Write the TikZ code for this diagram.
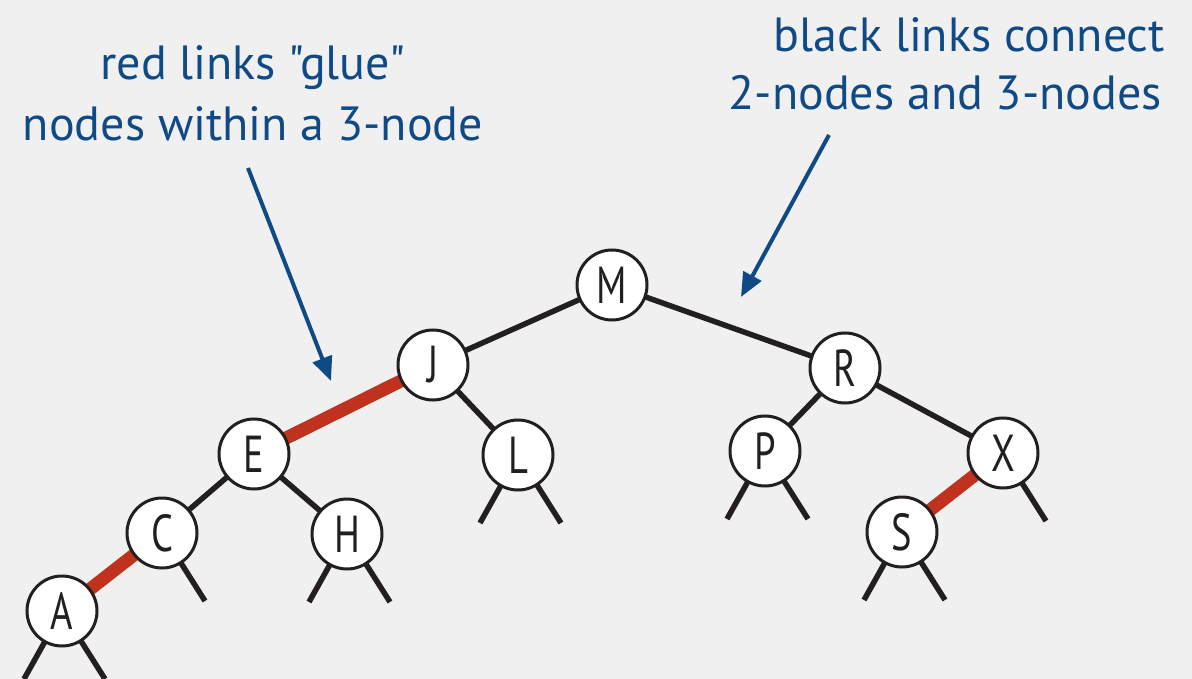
\documentclass[tikz,border=0pt]{standalone}
\usepackage{fontspec}
\setmainfont{PT Sans}
\newfontfamily\notefont{PT Sans}
\newfontfamily\keyfont{PT Sans}[FakeStretch=0.74]
\usetikzlibrary{arrows.meta}
\definecolor{bgcol}{HTML}{F0F0F0}
\definecolor{notecol}{HTML}{0F4A87}
\definecolor{redlink}{HTML}{C0311E}
\definecolor{blacklink}{HTML}{231F20}
\pgfdeclarelayer{bg}
\pgfdeclarelayer{links}
\pgfsetlayers{bg,links,main}
\tikzset{
  key/.style={circle, draw=blacklink, line width=3pt, fill=white, minimum size=70pt,
    inner sep=0pt, font=\keyfont\fontsize{52}{52}\selectfont, text=blacklink},
  blk/.style={draw=blacklink, line width=5.5pt},
  rdl/.style={draw=redlink, line width=13pt},
  nil/.style={draw=blacklink, line width=5.5pt},
  note/.style={text=notecol, font=\notefont\fontsize{48}{60}\selectfont, inner sep=0pt},
  pointer/.style={draw=notecol, line width=4pt, -{Triangle[length=24pt,width=20pt]}}
}
\begin{document}
\begin{tikzpicture}[x=1pt, y=-1pt]
\begin{pgfonlayer}{bg}
  \fill[bgcol] (0,0) rectangle (1192,679);
\end{pgfonlayer}
\useasboundingbox (0,0) rectangle (1192,679);

% tree nodes
\node[key] (M) at (612,285) {M};
\node[key] (J) at (433,365) {J};
\node[key] (R) at (845,368) {R};
\node[key] (E) at (254,454) {E};
\node[key] (L) at (518,455) {L};
\node[key] (P) at (765,451) {P};
\node[key] (X) at (1003,453) {X};
\node[key] (C) at (162,533) {C};
\node[key] (H) at (347,534) {H};
\node[key] (S) at (902,532) {S};
\node[key] (A) at (62,611) {A};

% links
\begin{pgfonlayer}{links}
  \draw[blk] (M.center) -- (J.center);
  \draw[blk] (M.center) -- (R.center);
  \draw[rdl] (J.center) -- (E.center);
  \draw[blk] (J.center) -- (L.center);
  \draw[blk] (R.center) -- (P.center);
  \draw[blk] (R.center) -- (X.center);
  \draw[blk] (E.center) -- (C.center);
  \draw[blk] (E.center) -- (H.center);
  \draw[rdl] (C.center) -- (A.center);
  \draw[rdl] (X.center) -- (S.center);
  % null links
  \foreach \n in {A,H,L,P,S} {
    \draw[nil] (\n.center) -- ++(-38,68);
    \draw[nil] (\n.center) -- ++(43,68);
  }
  \draw[nil] (C.center) -- ++(43,68);
  \draw[nil] (X.center) -- ++(43,68);
\end{pgfonlayer}

% annotations
\node[note, anchor=base] (redtxt1) at (253,80) {red links "glue"};
\node[note, anchor=base] (redtxt2) at (253,141) {nodes within a 3-node};
\node[note, anchor=base east] (blktxt1) at (1165,52) {black links connect};
\node[note, anchor=base east] (blktxt2) at (1162,110) {2-nodes and 3-nodes};

\coordinate (redfrom) at (248,168);
\coordinate (redto) at (331,381);
\coordinate (blkfrom) at (829,135);
\coordinate (blkto) at (741,297);
\draw[pointer] (redfrom) -- (redto);
\draw[pointer] (blkfrom) -- (blkto);
\end{tikzpicture}
\end{document}
